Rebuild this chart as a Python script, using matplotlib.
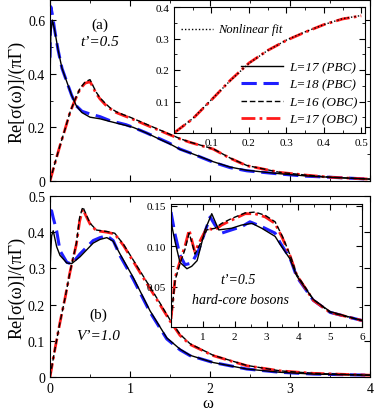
import matplotlib
matplotlib.use("Agg")
import matplotlib.pyplot as plt
from matplotlib.ticker import MultipleLocator, FixedLocator

plt.rcParams['font.family'] = ['Liberation Serif', 'DejaVu Serif']
plt.rcParams['mathtext.fontset'] = 'stix'

# ---- panel (a): t'=0.5 ----
a_pbc_w = [0, 0.01, 0.03, 0.06, 0.1, 0.15, 0.21, 0.27, 0.33, 0.4, 0.5, 0.625, 0.75, 0.83, 0.95,
           1.04, 1.2, 1.375, 1.5, 1.625, 1.75, 2.04, 2.25, 2.46, 2.875, 3.2, 3.5, 4.0]
a_L18_pbc = [0.46, 0.65, 0.62, 0.56, 0.49, 0.42, 0.37, 0.32, 0.28, 0.26, 0.25, 0.24, 0.225, 0.219,
             0.21, 0.2, 0.18, 0.157, 0.14, 0.119, 0.105, 0.07, 0.05, 0.038, 0.026, 0.018, 0.014, 0.007]
a_L17_pbc = [0.35, 0.55, 0.6, 0.56, 0.49, 0.42, 0.37, 0.32, 0.28, 0.255, 0.238, 0.232, 0.222, 0.216,
             0.207, 0.2, 0.18, 0.155, 0.138, 0.118, 0.105, 0.072, 0.052, 0.04, 0.027, 0.019, 0.014, 0.007]

a_obc_w = [0, 0.06, 0.125, 0.19, 0.25, 0.31, 0.375, 0.44, 0.5, 0.53, 0.57, 0.625, 0.69, 0.75, 0.83,
           0.92, 1.0, 1.125, 1.25, 1.375, 1.5, 1.625, 1.75, 2.04, 2.25, 2.46, 2.875, 3.2, 3.5, 4.0]
a_L17_obc = [0, 0.065, 0.132, 0.195, 0.256, 0.3, 0.343, 0.365, 0.37, 0.355, 0.33, 0.306, 0.285, 0.27,
             0.255, 0.244, 0.235, 0.219, 0.203, 0.188, 0.172, 0.157, 0.144, 0.119, 0.085, 0.057, 0.032,
             0.022, 0.014, 0.007]
a_L16_obc = [0, 0.065, 0.132, 0.195, 0.256, 0.302, 0.345, 0.37, 0.378, 0.36, 0.335, 0.31, 0.29, 0.273,
             0.258, 0.247, 0.238, 0.222, 0.206, 0.19, 0.174, 0.158, 0.145, 0.12, 0.086, 0.058, 0.032,
             0.022, 0.014, 0.007]

# inset (a): low-frequency part, with nonlinear fit
ia_w = [0, 0.05, 0.1, 0.15, 0.2, 0.25, 0.3, 0.35, 0.4, 0.45, 0.5]
ia_L17_obc = [0.0, 0.045, 0.105, 0.167, 0.222, 0.262, 0.294, 0.32, 0.344, 0.362, 0.372]
ia_fit = [0.0, 0.046, 0.106, 0.166, 0.221, 0.262, 0.295, 0.321, 0.344, 0.363, 0.373]

# ---- panel (b): V'=1.0 ----
b_pbc_w = [0, 0.02, 0.04, 0.083, 0.125, 0.21, 0.27, 0.375, 0.54, 0.625, 0.71, 0.79, 0.875, 1.04,
           1.25, 1.46, 1.625, 1.75, 2.04, 2.46, 2.875, 3.3, 4.0]
b_L18_pbc = [0.46, 0.459, 0.44, 0.404, 0.349, 0.317, 0.312, 0.34, 0.377, 0.385, 0.39, 0.377, 0.335,
             0.27, 0.179, 0.105, 0.075, 0.059, 0.04, 0.022, 0.013, 0.008, 0.005]
b_L17_pbc = [0.3, 0.39, 0.404, 0.36, 0.336, 0.315, 0.313, 0.332, 0.37, 0.38, 0.385, 0.375, 0.34,
             0.275, 0.183, 0.108, 0.077, 0.06, 0.04, 0.022, 0.013, 0.008, 0.005]

b_obc_w = [0, 0.06, 0.125, 0.19, 0.25, 0.33, 0.37, 0.41, 0.45, 0.5, 0.58, 0.71, 0.81, 0.92, 1.125,
           1.375, 1.5, 1.625, 1.75, 2.04, 2.46, 2.875, 3.3, 4.0]
b_L17_obc = [0, 0.075, 0.151, 0.22, 0.29, 0.367, 0.43, 0.464, 0.445, 0.423, 0.404, 0.4, 0.395, 0.363,
             0.289, 0.2, 0.155, 0.115, 0.09, 0.059, 0.031, 0.017, 0.01, 0.005]
b_L16_obc = [0, 0.075, 0.151, 0.22, 0.29, 0.37, 0.44, 0.47, 0.45, 0.425, 0.406, 0.402, 0.397, 0.366,
             0.293, 0.204, 0.158, 0.118, 0.092, 0.06, 0.032, 0.017, 0.01, 0.005]

# inset (b): hard-core bosons, t'=0.5
ib_pbc18_w = [0, 0.13, 0.28, 0.44, 0.65, 0.86, 1.07, 1.23, 1.38, 1.59, 1.9, 2.22, 2.48, 2.85, 3.27,
              3.43, 3.74, 3.95, 4.47, 5.0, 6.0]
ib_L18_pbc = [0.142, 0.114, 0.089, 0.077, 0.079, 0.094, 0.118, 0.136, 0.126, 0.116, 0.12, 0.124,
              0.13, 0.124, 0.116, 0.104, 0.085, 0.062, 0.033, 0.018, 0.008]
ib_pbc17_w = [0, 0.13, 0.28, 0.5, 0.65, 0.82, 1.07, 1.28, 1.5, 1.9, 2.22, 2.55, 2.85, 3.27, 3.43,
              3.74, 3.95, 4.47, 5.0, 6.0]
ib_L17_pbc = [0.13, 0.105, 0.08, 0.072, 0.075, 0.082, 0.12, 0.14, 0.12, 0.122, 0.126, 0.128, 0.122,
              0.112, 0.102, 0.084, 0.063, 0.034, 0.019, 0.008]
ib_obc_w = [0, 0.13, 0.28, 0.44, 0.57, 0.7, 0.75, 0.96, 1.12, 1.38, 1.59, 1.9, 2.33, 2.64, 2.96,
            3.27, 3.5, 3.74, 3.95, 4.47, 5.0, 6.0]
ib_L17_obc = [0.01, 0.061, 0.081, 0.1, 0.12, 0.1, 0.093, 0.11, 0.122, 0.12, 0.126, 0.132, 0.14,
              0.14, 0.136, 0.128, 0.11, 0.088, 0.064, 0.033, 0.018, 0.008]
ib_L16_obc = [0.01, 0.058, 0.078, 0.096, 0.116, 0.098, 0.09, 0.106, 0.12, 0.122, 0.128, 0.134, 0.141,
              0.142, 0.138, 0.13, 0.112, 0.089, 0.065, 0.034, 0.018, 0.008]

labels = ["L=17 (PBC)", "L=18 (PBC)", "L=16 (OBC)", "L=17 (OBC)"]

black_solid = dict(color='black', lw=1.0, ls='-')
blue_dash = dict(color='#1f1fff', lw=2.2, ls=(0, (5, 2.2)))
black_dash = dict(color='black', lw=1.0, ls=(0, (4, 2)))
red_dashdot = dict(color='#ff1a1a', lw=2.0, ls=(0, (5, 1.5, 1, 1.5)))


def style_ticks(ax, size):
    ax.tick_params(which='both', direction='in', top=True, right=True, labelsize=size)
    ax.tick_params(which='major', length=4)
    ax.tick_params(which='minor', length=2)


fig = plt.figure(figsize=(3.74, 4.14), dpi=100)
W, H = 374, 414


def rect(l, t, r, b):
    return [l / W, 1 - b / H, (r - l) / W, (b - t) / H]


# panel (a)
ax1 = fig.add_axes(rect(50, 1, 370, 182))
ax1.plot(a_pbc_w, a_L18_pbc, **blue_dash)
ax1.plot(a_obc_w, a_L17_obc, **red_dashdot)
ax1.plot(a_pbc_w, a_L17_pbc, **black_solid)
ax1.plot(a_obc_w, a_L16_obc, **black_dash)
ax1.set_xlim(0, 4)
ax1.set_ylim(0, 0.675)
ax1.xaxis.set_major_locator(MultipleLocator(1))
ax1.xaxis.set_minor_locator(MultipleLocator(0.5))
ax1.yaxis.set_major_locator(MultipleLocator(0.2))
ax1.yaxis.set_minor_locator(MultipleLocator(0.1))
ax1.yaxis.set_major_formatter(matplotlib.ticker.FuncFormatter(lambda v, p: '0' if v == 0 else f'{v:g}'))
ax1.tick_params(labelbottom=False)
style_ticks(ax1, 10)
ax1.set_ylabel('Re[σ(ω)]/(πΓ)', fontsize=13, labelpad=2)
ax1.text(0.625, 0.585, '(a)', fontsize=11, ha='center', va='center')
ax1.text(0.625, 0.52, 't\u2019=0.5', fontsize=11, style='italic', ha='center', va='center')

# inset (a)
axi1 = fig.add_axes(rect(174, 8, 365, 134))
axi1.plot(ia_w, ia_L17_obc, **red_dashdot)
axi1.plot(ia_w, ia_fit, color='black', lw=1.0, ls=(0, (1, 1.5)))
axi1.set_xlim(0, 0.51)
axi1.set_ylim(0, 0.4)
axi1.xaxis.set_major_locator(FixedLocator([0.1, 0.2, 0.3, 0.4, 0.5]))
axi1.xaxis.set_minor_locator(MultipleLocator(0.05))
axi1.yaxis.set_major_locator(FixedLocator([0.1, 0.2, 0.3, 0.4]))
axi1.yaxis.set_minor_locator(MultipleLocator(0.05))
style_ticks(axi1, 8)
axi1.plot([0.02, 0.105], [0.33, 0.33], color='black', lw=1.0, ls=(0, (1, 1.5)))
axi1.text(0.118, 0.33, 'Nonlinear fit', fontsize=9, style='italic', va='center')

handles = [
    plt.Line2D([], [], **black_solid),
    plt.Line2D([], [], **blue_dash),
    plt.Line2D([], [], **black_dash),
    plt.Line2D([], [], **red_dashdot),
]
axi1.legend(handles, labels, loc='lower right', frameon=False,
            prop={'style': 'italic', 'size': 9.5}, handlelength=3.2,
            labelspacing=0.4, borderaxespad=0.15, handletextpad=0.5)

# panel (b)
ax2 = fig.add_axes(rect(50, 197, 370, 378))
ax2.plot(b_pbc_w, b_L18_pbc, **blue_dash)
ax2.plot(b_obc_w, b_L17_obc, **red_dashdot)
ax2.plot(b_pbc_w, b_L17_pbc, **black_solid)
ax2.plot(b_obc_w, b_L16_obc, **black_dash)
ax2.set_xlim(0, 4)
ax2.set_ylim(0, 0.5)
ax2.xaxis.set_major_locator(MultipleLocator(1))
ax2.xaxis.set_minor_locator(MultipleLocator(0.5))
ax2.yaxis.set_major_locator(MultipleLocator(0.1))
ax2.yaxis.set_major_formatter(matplotlib.ticker.FuncFormatter(lambda v, p: '0' if v == 0 else f'{v:g}'))
ax2.xaxis.set_major_formatter(matplotlib.ticker.FuncFormatter(lambda v, p: f'{v:g}'))
style_ticks(ax2, 10)
ax2.set_ylabel('Re[σ(ω)]/(πΓ)', fontsize=13, labelpad=2)
fig.text(208 / W, 1 - 404 / H, 'ω', fontsize=12, ha='center', va='center')
ax2.text(0.6, 0.174, '(b)', fontsize=11, ha='center', va='center')
ax2.text(0.6, 0.114, 'V\u2019=1.0', fontsize=11, style='italic', ha='center', va='center')

# inset (b)
axi2 = fig.add_axes(rect(171, 205, 362, 328))
axi2.plot(ib_pbc18_w, ib_L18_pbc, **blue_dash)
axi2.plot(ib_obc_w, ib_L17_obc, **red_dashdot)
axi2.plot(ib_pbc17_w, ib_L17_pbc, **black_solid)
axi2.plot(ib_obc_w, ib_L16_obc, **black_dash)
axi2.set_xlim(0, 6)
axi2.set_ylim(0, 0.152)
axi2.xaxis.set_major_locator(FixedLocator([1, 2, 3, 4, 5, 6]))
axi2.xaxis.set_minor_locator(MultipleLocator(0.5))
axi2.yaxis.set_major_locator(FixedLocator([0.05, 0.1, 0.15]))
axi2.yaxis.set_minor_locator(MultipleLocator(0.025))
style_ticks(axi2, 8)
axi2.text(2.1, 0.059, 't\u2019=0.5', fontsize=10, style='italic', ha='center', va='center')
axi2.text(2.17, 0.0345, 'hard-core bosons', fontsize=10, style='italic', ha='center', va='center')

fig.savefig('out.png', dpi=100)
